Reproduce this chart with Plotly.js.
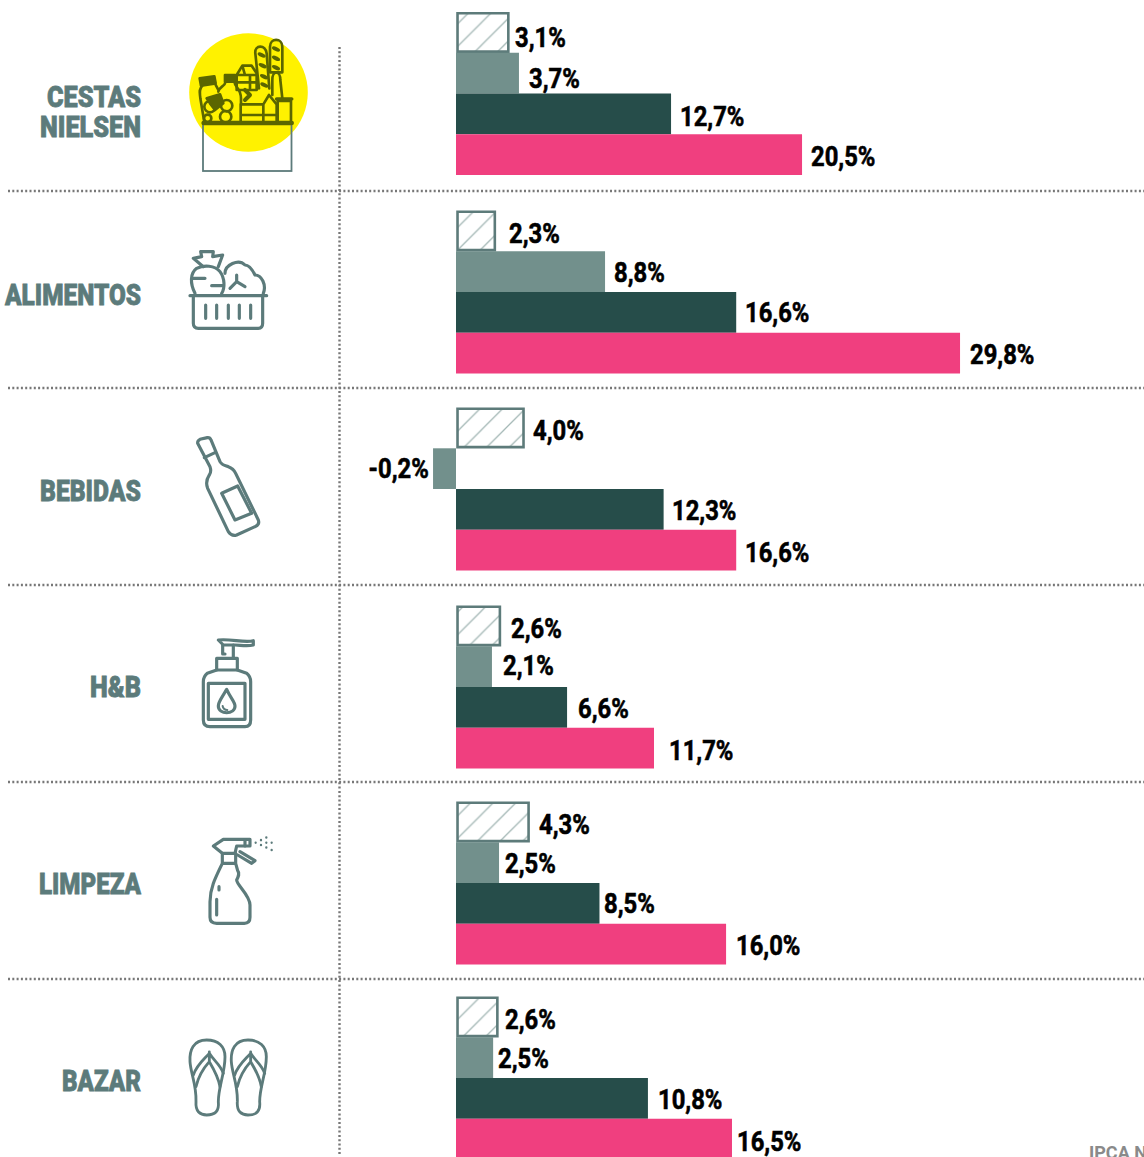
<!DOCTYPE html>
<html><head><meta charset="utf-8">
<script src="https://cdn.plot.ly/plotly-3.0.1.min.js"></script>
<style>
html,body{margin:0;padding:0;background:#fff;overflow:hidden}
#chart{width:1144px;height:1157px}
</style></head><body><div id="chart"></div>
<script>
// ---- data ----
const categoryLines = ['CESTAS','NIELSEN','ALIMENTOS','BEBIDAS','H&B','LIMPEZA','BAZAR'];
const seriesA = [3.1, 2.3, 4.0, 2.6, 4.3, 2.45];      // hatched
const seriesB = [3.73, 8.83, -1.36, 2.13, 2.55, 2.2]; // grey
const seriesC = [12.74, 16.6, 12.3, 6.58, 8.5, 11.37];  // dark
const seriesD = [20.5, 29.86, 16.6, 11.73, 16.0, 16.35]; // pink
const labelsA = ['3,1%','2,3%','4,0%','2,6%','4,3%','2,6%'];
const labelsB = ['3,7%','8,8%','-0,2%','2,1%','2,5%','2,5%'];
const labelsC = ['12,7%','16,6%','12,3%','6,6%','8,5%','10,8%'];
const labelsD = ['20,5%','29,8%','16,6%','11,7%','16,0%','16,5%'];
const footerText = 'IPCA NIELSEN';

// ---- layout constants (pixels) ----
const W = 1144, H = 1157, LEFT = 142, ZERO = 456, PX_PER_UNIT = 16.88, BAR = 40.7;
const rowCenters = [93.5, 292, 489, 687, 883, 1078];
const tickCenters = [96, 126, 294, 490, 686, 883, 1080];
const tickWidths = [94, 101, 136, 101, 51, 102, 79];
const labelSqueeze = 0.85;
const gapX = [[7,14,9,11,10,8],[10,9,-4,11,6,5],[9,9,8,11,5,10],[9,10,9,15,10,5]];
const shiftY = [[5.5,3,3,3,3,3],[5,.4,0,-1.4,.6,.6],[2.3,0,1.6,1.6,.6,1.6],[1.6,1,2,2,1,2]];
const TEAL = '#5c7b7b';

const px = x => (x - LEFT) / (W - LEFT);
const series = [seriesA, seriesB, seriesC, seriesD];
const labels = [labelsA, labelsB, labelsC, labelsD];

const traces = [
  {marker:{color:'#fff',line:{color:'#5d7b7a',width:2.6},
    pattern:{shape:'/',fgcolor:'#a3b7b5',bgcolor:'#fff',size:16,solidity:.08}}, width:38.4, base:.09},
  {marker:{color:'#72908c',line:{width:0}}, width:BAR},
  {marker:{color:'#264d4a',line:{width:0}}, width:BAR},
  {marker:{color:'#f03f7f',line:{width:0}}, width:BAR}
].map((t,j)=>Object.assign(t,{
  type:'bar', orientation:'h', y:rowCenters,
  x: j===0 ? series[0].map(v=>v-.09) : series[j],
  offset:(j-2)*BAR + (j===0?1.15:0), hoverinfo:'skip', showlegend:false
}));

const annotations = [];
series.forEach((vals,j)=>vals.forEach((v,i)=>annotations.push({
  x:v, y:rowCenters[i]+(j-1.5)*BAR, xref:'x', yref:'y', text:labels[j][i], showarrow:false,
  xanchor: gapX[j][i]<0 ? 'right':'left', yanchor:'middle', xshift:gapX[j][i]-(gapX[j][i]<0?-1:1), yshift:-shiftY[j][i],
  borderpad:0, font:{family:'Roboto',size:28,color:'#000',weight:700}
})));
annotations.push({xref:'paper',yref:'paper',x:px(1088),y:(H-1152)/H,xanchor:'left',yanchor:'middle',showarrow:false,
  text:footerText,borderpad:0,font:{family:'Roboto',size:18,color:'#8a8a8a',weight:700}});

const dots = {color:'#777',width:2.4,dash:'2px,2.3px'};
const shapes = [191,388,585,782,979].map(y=>({type:'line',xref:'paper',yref:'paper',
  x0:px(8),x1:1,y0:(H-y)/H,y1:(H-y)/H,line:dots}));
shapes.push({type:'line',xref:'paper',yref:'paper',x0:px(339.5),x1:px(339.5),y0:(H-47)/H,y1:(H-1155)/H,line:dots});

// ---- icons ----
const OL='#5b6600';
const g=(ox,oy,body,c=TEAL,sw=9.5)=>`<g transform="translate(${ox} ${oy}) scale(.3333)" fill="none" stroke="${c}" stroke-width="${sw}" stroke-linecap="round" stroke-linejoin="round">${body}</g>`;
const leaf=(x,y)=>`<ellipse cx="${x}" cy="${y}" rx="13" ry="6" transform="rotate(25 ${x} ${y})" fill="${OL}" stroke="none"/>`;
const iconNielsen = `<circle cx="248.5" cy="92.5" r="59.3" fill="#fff200"/>
<rect x="203" y="123" width="88.5" height="48" fill="none" stroke="${TEAL}" stroke-width="1.8"/>`+
g(195,35,`
<path d="M225,112 V35 C225,8 262,8 262,35 V112 Z"/>
<path d="M192,160 L181,55 C178,28 212,28 215,55 L223,160"/>
${leaf(243,42)}${leaf(243,70)}${leaf(243,98)}${leaf(200,60)}${leaf(203,92)}${leaf(207,125)}${leaf(208,150)}
<path d="M232,180 V135 C232,105 256,105 256,135 L262,190"/>
<path d="M125,120 L142,92 H170 L185,115 V165 H125 Z M125,120 H185 M165,120 V160 M142,92 L150,120 M125,142 H185"/>
<path d="M137,262 V208 H205 L222,180 L245,208 V262 Z M205,208 V262 M137,240 H245"/>
<path d="M248,262 V198 H288 V262"/><path d="M245,192 H290" stroke-width="11"/>
<path d="M14,130 L58,124 L62,145 L18,152 Z" fill="${OL}"/>
<path d="M22,152 C10,165 15,175 16,190 L28,262 M62,150 L70,165"/>
<path d="M90,120 H120 V140 H90 Z" fill="${OL}"/>
<path d="M92,140 C90,155 72,155 70,170 M118,140 C120,158 138,160 138,190 V205"/>
<circle cx="45" cy="215" r="17"/><circle cx="95" cy="212" r="17"/><circle cx="92" cy="245" r="17"/><circle cx="38" cy="250" r="11"/>
<path d="M35,190 L75,178 L85,205 L60,225 L45,205 Z" fill="${OL}"/>
<path d="M150,165 L165,180 L150,195" stroke-width="12"/>
<path d="M26,264 H290" stroke-width="14"/>`,OL,8);
const iconBasket = g(170,230,`
<path d="M75,190 C60,160 60,130 80,115 C100,105 135,105 150,125 C165,145 165,175 155,190"/>
<path d="M70,145 H105 M125,167 H160"/>
<path d="M100,110 L70,85 L95,80 L92,65 L130,65 L128,80 L158,75 L145,110"/>
<path d="M165,130 C165,105 205,85 225,105 C240,105 250,125 255,135 C275,135 290,165 280,190"/>
<path d="M200,135 V155 L180,175 M200,155 L225,170"/>
<path d="M60,197 H290"/>
<path d="M70,197 V280 Q70,295 85,295 H265 Q278,295 278,280 V197"/>
<path d="M107,225 V265 M140,225 V265 M175,225 V265 M208,225 V265 M242,225 V265"/>`);
const iconBottle = g(170,230,`
<path d="M83,640 Q82,632 90,628 L112,623 Q120,622 123,630 L150,695 Q155,705 175,710 Q190,715 197,730 L265,870 Q270,885 255,890 L200,915 Q185,920 175,905 L113,775 Q105,755 118,735 Q125,725 120,710 Z"/>
<path d="M103,683 L135,668"/>
<path d="M155,790 L203,768 L245,850 L195,870 Z"/>`);
const iconPump = g(190,630,`
<path d="M85,30 L100,45 H135 C150,45 170,50 190,45 V32 C165,40 120,25 85,30 Z"/>
<path d="M98,45 V72 H105 M130,45 V85"/>
<path d="M80,120 V85 H142 V120"/>
<path d="M80,120 L52,130 Q40,140 40,155 V270 Q40,290 60,290 H165 Q182,290 182,270 V155 Q182,140 170,130 L142,120 Z"/>
<path d="M55,160 H165 V268 H55 Z"/>
<path d="M110,178 C95,205 85,215 85,228 C85,255 135,255 135,228 C135,215 122,205 110,178 Z"/>
<path d="M98,228 Q100,240 112,240" stroke-width="6"/>`);
const iconSpray = g(195,830,`
<path d="M55,48 L85,28 H165 V48 H125 L120,70 H82 Z"/>
<path d="M150,30 V48"/>
<path d="M135,65 L180,92 L170,100 L128,75" />
<path d="M82,70 V100 H122 V70 M82,100 C60,145 45,175 45,215 V262 Q45,280 65,280 H148 Q165,280 165,262 V225 C165,195 125,165 125,150 C130,140 135,130 128,122 L122,100"/>
<path d="M72,170 V180 M65,208 V255"/>
<path d="M182,38 V38.5 M198,30 V30.5 M214,22 V22.5 M198,45 V45.5 M214,38 V38.5 M230,38 V38.5 M214,52 V52.5 M230,60 V60.5" stroke-width="7"/>`);
const flip = `<path d="M80,30 C40,30 28,60 30,95 C32,130 50,165 48,215 C46,245 60,255 80,255 C105,255 118,245 115,215 C115,170 135,130 135,80 C135,50 115,30 80,30 Z"/>
<path d="M88,66 V95 M88,70 C70,90 50,105 40,135 M88,70 C100,90 122,105 130,130 M88,95 C70,115 55,140 48,170 M88,95 C100,115 115,140 120,170"/>`;
const iconFlip = g(180,1030,flip+`<g transform="translate(124 0)">${flip}</g>`,TEAL,8.5);

const iconsSvg = `<svg xmlns="http://www.w3.org/2000/svg" width="${W}" height="${H}" viewBox="0 0 ${W} ${H}">${iconNielsen}${iconBasket}${iconBottle}${iconPump}${iconSpray}${iconFlip}</svg>`;

const layout = {
  width:W, height:H, margin:{l:LEFT,r:0,t:0,b:0}, paper_bgcolor:'#fff', plot_bgcolor:'rgba(0,0,0,0)',
  barmode:'overlay', showlegend:false,
  xaxis:{visible:false, range:[(LEFT-ZERO)/PX_PER_UNIT,(W-ZERO)/PX_PER_UNIT], fixedrange:true},
  yaxis:{range:[H,0], showgrid:false, zeroline:false, showline:false, ticks:'', tickmode:'array',
    tickvals:tickCenters, ticktext:categoryLines, fixedrange:true,
    tickfont:{family:'Roboto',size:30,color:TEAL,weight:900}},
  annotations, shapes,
  images:[{source:'data:image/svg+xml;charset=utf-8,'+encodeURIComponent(iconsSvg),xref:'paper',yref:'paper',
    x:-LEFT/(W-LEFT),y:1,sizex:W/(W-LEFT),sizey:1,sizing:'stretch',xanchor:'left',yanchor:'top',layer:'above'}]
};
Plotly.newPlot('chart',traces,layout,{staticPlot:true,displayModeBar:false}).then(()=>{
  // the reference type is a condensed display face: squeeze the real text to its measured width
  document.querySelectorAll('.annotation-text').forEach(t=>{
    if(t.textContent===footerText) return;
    const b=t.getBBox(), w=b.width*labelSqueeze, right=t.textContent.charAt(0)==='-';
    t.setAttribute('text-anchor',right?'end':'start');
    t.setAttribute('x',right?b.x+b.width:b.x);
    t.setAttribute('textLength',w); t.setAttribute('lengthAdjust','spacingAndGlyphs');
    t.style.textAnchor=right?'end':'start';
    t.style.stroke='#000'; t.style.strokeWidth='.6px';
  });
  document.querySelectorAll('.ytick text').forEach(t=>{
    const i=categoryLines.indexOf(t.textContent);
    if(i>=0){t.setAttribute('textLength',tickWidths[i]); t.setAttribute('lengthAdjust','spacingAndGlyphs');
      t.style.stroke=TEAL; t.style.strokeWidth='.8px';}
  });
});
</script></body></html>
